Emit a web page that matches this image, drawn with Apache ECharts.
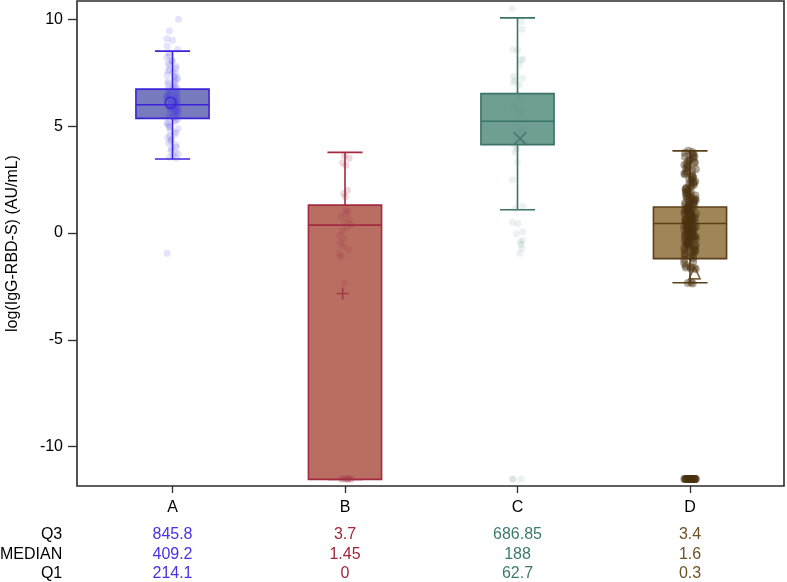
<!DOCTYPE html>
<html><head><meta charset="utf-8">
<script src="https://cdn.jsdelivr.net/npm/echarts@6/dist/echarts.min.js"></script>
<style>html,body{margin:0;padding:0;background:#fff}#c{width:787px;height:582px}</style>
</head><body><div id="c"></div><script>
// ---------- data (log scale values) ----------
const categories = ['A', 'B', 'C', 'D'];
const boxMin    = [3.47, -11.54, 1.09, -2.33];
const boxQ1     = [5.37, -11.54, 4.14, -1.20];
const boxMedian = [6.01, 0.37, 5.24, 0.45];
const boxQ3     = [6.74, 1.31, 6.53, 1.22];
const boxMax    = [8.52, 3.78, 10.08, 3.85];
const meanValues = [6.10, -2.83, 4.43, -1.87];
const yTicks = [-10, -5, 0, 5, 10];
const tableRows = ['Q3', 'MEDIAN', 'Q1'];
const tableQ3     = ['845.8', '3.7', '686.85', '3.4'];
const tableMedian = ['409.2', '1.45', '188', '1.6'];
const tableQ1     = ['214.1', '0', '62.7', '0.3'];

const pointsA = [10.02, 9.46, 9.1, 9.03, 8.75, 8.6, 8.45, 8.3, 8.22, 8.1, 8.05, 7.95, 7.88, 7.8, 7.72, 7.66, 7.6,
  7.52, 7.47, 7.4, 7.33, 7.28, 7.21, 7.17, 7.1, 7.04, 6.98, 6.93, 6.88, 6.82, 6.79, 6.73, 6.7, 6.66, 6.61, 6.58,
  6.52, 6.49, 6.45, 6.41, 6.37, 6.33, 6.3, 6.27, 6.22, 6.19, 6.15, 6.12, 6.08, 6.05, 6.02, 5.99, 5.96, 5.92, 5.89,
  5.85, 5.81, 5.78, 5.74, 5.7, 5.66, 5.62, 5.58, 5.55, 5.5, 5.46, 5.42, 5.38, 5.33, 5.28, 5.22, 5.16, 5.1, 5.03,
  4.95, 4.88, 4.8, 4.72, 4.63, 4.55, 4.47, 4.38, 4.3, 4.21, 4.12, 4.03, 3.95, 3.86, 3.78, 3.7, 3.62, 3.55, 3.5,
  6.4, 6.1, 5.9, 6.25, 5.65, 6.55, 5.8, 6.0, 6.35, 5.95, 6.2, 5.7, 6.05, 6.45, 5.85, -0.95];
const pointsB = [3.62, 3.5, 3.28, 3.18, 2.0, 1.85, 1.7, 1.12, 1.0, 0.9, 0.78, 0.62, 0.5, 0.38, 0.25, 0.1, -0.12,
  -0.28, -0.45, -0.62, -0.8, -0.98, -1.12, -2.35,
  -11.52, -11.52, -11.52, -11.52, -11.52, -11.52, -11.52, -11.52];
const pointsC = [10.52, 9.9, 9.55, 8.6, 8.55, 8.15, 8.1, 7.9, 7.35, 7.25, 7.15, 7.05, 6.95, 6.5, 6.3, 6.2, 6.0,
  5.8, 5.72, 5.5, 5.1, 4.85, 4.7, 4.5, 4.3, 4.1, 3.95, 3.8, 3.3, 2.5, 1.25, 1.15, 0.5, 0.45, 0.05, -0.04, -0.35,
  -0.42, -0.55, -0.72, -0.95, -11.52, -11.52, -11.52];
const pointsD = [3.85, 3.8, 3.76, 3.71, 3.66, 3.6, 3.57, 3.52, 3.47, 3.41, 3.38, 3.33, 3.28, 3.24, 3.19, 3.13,
  3.08, 3.04, 2.99, 2.93, 2.9, 2.84, 2.79, 2.75, 2.71, 2.66, 2.6, 2.57, 2.52, 2.48, 2.43, 2.39, 2.34, 2.3, 2.26,
  2.21, 2.17, 2.12, 2.08, 2.03, 1.98, 1.94, 1.9, 1.87, 1.83, 1.8, 1.76, 1.73, 1.69, 1.66, 1.62, 1.59, 1.55, 1.52,
  1.48, 1.45, 1.41, 1.38, 1.34, 1.31, 1.27, 1.24, 1.2, 1.17, 1.13, 1.1, 1.06, 1.03, 0.99, 0.96, 0.92, 0.89, 0.85,
  0.82, 0.78, 0.75, 0.71, 0.68, 0.64, 0.61, 0.57, 0.54, 0.5, 0.47, 0.43, 0.4, 0.36, 0.33, 0.29, 0.26, 0.22, 0.19,
  0.15, 0.12, 0.08, 0.05, 0.01, -0.02, -0.06, -0.09, -0.13, -0.16, -0.2, -0.23, -0.27, -0.3, -0.34, -0.37, -0.41,
  -0.44, -0.48, -0.52, -0.57, -0.61, -0.66, -0.7, -0.75, -0.8, -0.86, -0.91, -0.97, -1.03, -1.1, -1.17, -1.25,
  -1.33, -1.42, -1.52, 1.5, 1.2, 0.9, 0.6, 0.3, 0.0, -0.3, -0.6, 1.0, 0.7, 0.4, 0.1, -0.2, -0.5, 1.35, 0.95, 0.55,
  0.15, -0.15, -0.45, 1.6, 0.8, 0.2, -0.8, 1.1, 0.45, -0.1, -1.0, -1.6, -1.64, -1.66, -1.7, -1.62, -2.3, -2.34, -2.36,
  -11.52, -11.52, -11.52, -11.52, -11.52, -11.52, -11.52, -11.52, -11.52, -11.52, -11.52, -11.52, -11.52, -11.52,
  -11.52, -11.52, -11.52, -11.52, -11.52, -11.52, -11.52, -11.52, -11.52, -11.52, -11.52, -11.52, -11.52, -11.52];
const pointGroups = [pointsA, pointsB, pointsC, pointsD];

// ---------- styles ----------
const BOX_FILL   = ['#777abd', '#b96e62', '#6f9e92', '#a08559'];
const BOX_STROKE = ['#3b22dd', '#a32a3f', '#3b7366', '#5b3f17'];
const DOT_COLOR  = ['#4a3be0', '#a33048', '#5f9488', '#4a3210'];
const DOT_ALPHA  = [0.14, 0.18, 0.12, 0.42];
const DOT_SIZE   = [7, 7, 7, 8];
const TEXT_COLOR = ['#4a30e6', '#a0283a', '#3d7a6e', '#6e5127'];
const MEAN_SYMBOL = ['circle', 'path://M5,0L5,10M0,5L10,5', 'path://M0,0L10,10M10,0L0,10', 'path://M5,0L10,10L0,10Z'];
const MEAN_SIZE = [11, 12, 13, [11, 12]];
const FONT = 'Arial, "Liberation Sans", Helvetica, sans-serif';
const Y_MIN = -11.85, Y_MAX = 10.87;

const rich = {};
categories.forEach((c, i) => { rich['c' + i] = { color: TEXT_COLOR[i], fontSize: 16, fontFamily: FONT }; });

function tableAxis(name, values, offset) {
  return {
    type: 'category', gridIndex: 0, data: categories, position: 'bottom', offset: offset,
    axisLine: { show: false, onZero: false }, axisTick: { show: false }, splitLine: { show: false },
    axisLabel: { margin: 0, verticalAlign: 'middle', interval: 0,
      formatter: (v, idx) => '{c' + idx + '|' + values[idx] + '}', rich: rich },
    name: name, nameLocation: 'start', nameGap: 24,
    nameTextStyle: { color: '#000', fontSize: 16, fontFamily: FONT, align: 'right', verticalAlign: 'middle' }
  };
}

function renderBox(params, api) {
  const i = api.value(0);
  const c = v => api.coord([i, v]);
  const bw = api.size([1, 0])[0] * 0.424;
  const cw = bw * 0.48;
  const pMin = c(api.value(1)), pQ1 = c(api.value(2)), pMed = c(api.value(3)), pQ3 = c(api.value(4)), pMax = c(api.value(5));
  const x = pMed[0];
  const ls = { stroke: BOX_STROKE[i], lineWidth: 1.6 };
  return {
    type: 'group',
    children: [
      { type: 'line', shape: { x1: x, y1: pQ3[1], x2: x, y2: pMax[1] }, style: ls },
      { type: 'line', shape: { x1: x, y1: pQ1[1], x2: x, y2: pMin[1] }, style: ls },
      { type: 'line', shape: { x1: x - cw / 2, y1: pMax[1], x2: x + cw / 2, y2: pMax[1] }, style: ls },
      { type: 'line', shape: { x1: x - cw / 2, y1: pMin[1], x2: x + cw / 2, y2: pMin[1] }, style: ls },
      { type: 'rect', shape: { x: x - bw / 2, y: pQ3[1], width: bw, height: pQ1[1] - pQ3[1] },
        style: { fill: BOX_FILL[i], stroke: BOX_STROKE[i], lineWidth: 1.6 } },
      { type: 'line', shape: { x1: x - bw / 2, y1: pMed[1], x2: x + bw / 2, y2: pMed[1] }, style: ls }
    ]
  };
}

const series = [{
  type: 'custom', xAxisIndex: 0, yAxisIndex: 0, z: 2,
  renderItem: renderBox,
  encode: { x: 0, y: [1, 2, 3, 4, 5] },
  data: categories.map((c, i) => [i, boxMin[i], boxQ1[i], boxMedian[i], boxQ3[i], boxMax[i]])
}];
pointGroups.forEach((pts, i) => {
  series.push({
    type: 'scatter', xAxisIndex: 0, yAxisIndex: 0, z: 3, symbolSize: DOT_SIZE[i],
    itemStyle: { color: DOT_COLOR[i], opacity: DOT_ALPHA[i] },
    emphasis: { disabled: true },
    data: pts.map(v => [i, v])
  });
});
series.push({
  type: 'scatter', xAxisIndex: 0, yAxisIndex: 0, z: 4,
  itemStyle: { color: 'rgba(0,0,0,0)', borderWidth: 1.6 },
  data: meanValues.map((v, i) => ({ value: [i, v], symbol: MEAN_SYMBOL[i], symbolSize: MEAN_SIZE[i],
    itemStyle: { borderColor: BOX_STROKE[i] } }))
});

const option = {
  animation: false,
  backgroundColor: '#fff',
  grid: [
    { left: 86.25, right: 10.75, top: 1, bottom: 96, outerBoundsMode: 'none', containLabel: false },
    { left: 77, right: 3, top: 1, bottom: 96, outerBoundsMode: 'none', containLabel: false,
      show: true, borderColor: '#2b2b2b', borderWidth: 1.6, backgroundColor: 'rgba(0,0,0,0)' }
  ],
  xAxis: [
    { type: 'category', gridIndex: 0, data: categories, boundaryGap: true, position: 'bottom', jitter: 12, jitterOverlap: true,
      axisLine: { show: false, onZero: false },
      axisTick: { show: true, alignWithLabel: true, length: 7, lineStyle: { color: '#2b2b2b', width: 1.3 } },
      axisLabel: { color: '#000', fontSize: 16, fontFamily: FONT, margin: 14, interval: 0 },
      splitLine: { show: false } },
    tableAxis(tableRows[0], tableQ3, 49),
    tableAxis(tableRows[1], tableMedian, 68.5),
    tableAxis(tableRows[2], tableQ1, 88),
    { type: 'value', gridIndex: 1, min: 0, max: 1, show: false }
  ],
  yAxis: [
    { type: 'value', gridIndex: 0, min: Y_MIN, max: Y_MAX, show: false },
    { type: 'value', gridIndex: 1, min: Y_MIN, max: Y_MAX,
      axisLine: { show: false },
      axisTick: { show: true, length: 9, customValues: yTicks, lineStyle: { color: '#2b2b2b', width: 1.3 } },
      axisLabel: { customValues: yTicks, color: '#000', fontSize: 16, fontFamily: FONT, margin: 14 },
      splitLine: { show: false },
      name: 'log(IgG-RBD-S) (AU/mL)', nameLocation: 'middle', nameGap: 56,
      nameTextStyle: { color: '#000', fontSize: 16, fontFamily: FONT } }
  ],
  series: series
};
const chart = echarts.init(document.getElementById('c'), null, { renderer: 'canvas' });
chart.setOption(option);
</script></body></html>
